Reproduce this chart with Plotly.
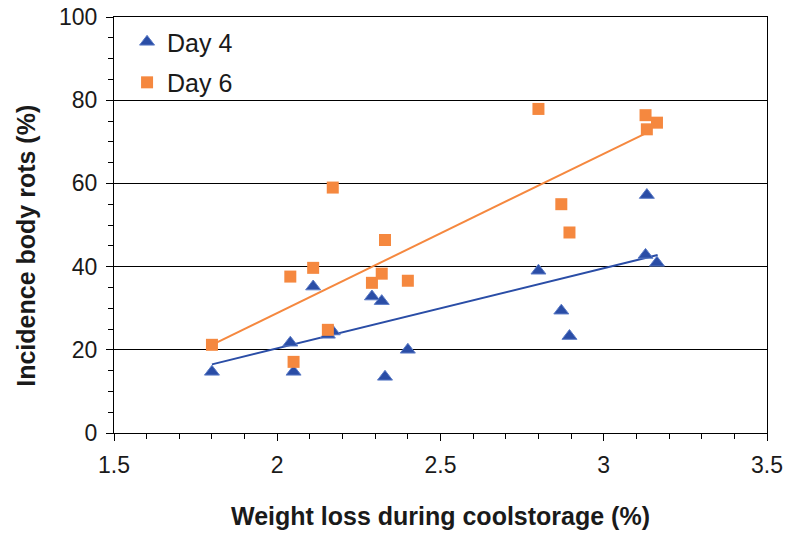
import plotly.graph_objects as go

# Data
weight_loss = [1.80, 2.04, 2.05, 2.11, 2.155, 2.17, 2.29, 2.32, 2.33, 2.40,
               2.80, 2.87, 2.895, 3.128, 3.132, 3.163]
day4 = [14.7, 21.7, 14.7, 35.2, 23.6, 24.4, 32.8, 31.7, 13.5, 20.0,
        39.0, 29.4, 23.3, 42.8, 57.2, 40.9]
day6 = [21.2, 37.6, 17.1, 39.7, 24.8, 59.0, 36.1, 38.3, 46.4, 36.6,
        77.9, 55.0, 48.2, 76.4, 73.0, 74.6]

# Trend line end points
trend4_x = [1.80, 3.165]
trend4_y = [16.5, 42.8]
trend6_x = [1.80, 3.13]
trend6_y = [21.2, 72.1]

x_ticks = [1.5, 2, 2.5, 3, 3.5]
y_ticks = [0, 20, 40, 60, 80, 100]

BLUE = "#2A4DA6"
ORANGE = "#F5883F"
FONT = "Liberation Sans, Arial, sans-serif"

fig = go.Figure()
fig.add_trace(go.Scatter(x=trend4_x, y=trend4_y, mode="lines",
                         line=dict(color=BLUE, width=2), showlegend=False, hoverinfo="skip"))
fig.add_trace(go.Scatter(x=trend6_x, y=trend6_y, mode="lines",
                         line=dict(color=ORANGE, width=2), showlegend=False, hoverinfo="skip"))
fig.add_trace(go.Scatter(x=weight_loss, y=day4, mode="markers", name="Day 4",
                         legendgroup="a",
                         marker=dict(symbol="triangle-up", size=13, color=BLUE,
                                     line=dict(color="#5B7BC6", width=1))))
fig.add_trace(go.Scatter(x=weight_loss, y=day6, mode="markers", name="Day 6",
                         legendgroup="b",
                         marker=dict(symbol="square", size=12, color=ORANGE,
                                     line=dict(width=0))))

fig.update_layout(
    width=787, height=533,
    margin=dict(l=114, r=20, t=17, b=100, autoexpand=False),
    paper_bgcolor="white", plot_bgcolor="white",
    font=dict(family=FONT, size=23, color="#1a1a1a"),
    legend=dict(x=0.02, y=0.995, xanchor="left", yanchor="top",
                bgcolor="rgba(0,0,0,0)", font=dict(size=25),
                tracegroupgap=5, itemwidth=30),
    showlegend=True,
    annotations=[dict(text="<b>Incidence body rots (%)</b>", textangle=-90,
                      xref="paper", yref="paper", x=-0.1348, y=0.45,
                      xanchor="center", yanchor="middle", showarrow=False,
                      font=dict(size=25, family=FONT, color="#1a1a1a"))],
)
fig.update_xaxes(
    range=[1.5, 3.5], tickvals=x_ticks, ticktext=[str(v) for v in x_ticks],
    showgrid=False, zeroline=False, automargin=False,
    showline=True, linecolor="black", linewidth=1, mirror=True,
    ticks="outside", ticklen=7, tickcolor="black",
    minor=dict(dtick=0.1, ticks="outside", ticklen=5, tickcolor="black"),
    tickfont=dict(size=23), ticklabelstandoff=4,
    title=dict(text="<b>Weight loss during coolstorage (%)</b>", font=dict(size=25), standoff=30),
)
fig.update_yaxes(
    range=[0, 100], tickvals=y_ticks, ticktext=[str(v) for v in y_ticks],
    showgrid=True, gridcolor="black", gridwidth=1, zeroline=False, automargin=False,
    showline=True, linecolor="black", linewidth=1, mirror=True,
    ticks="outside", ticklen=7, tickcolor="black",
    minor=dict(dtick=5, ticks="outside", ticklen=5, tickcolor="black", showgrid=False),
    tickfont=dict(size=23), ticklabelstandoff=4,
)

fig.write_html("out.html")
